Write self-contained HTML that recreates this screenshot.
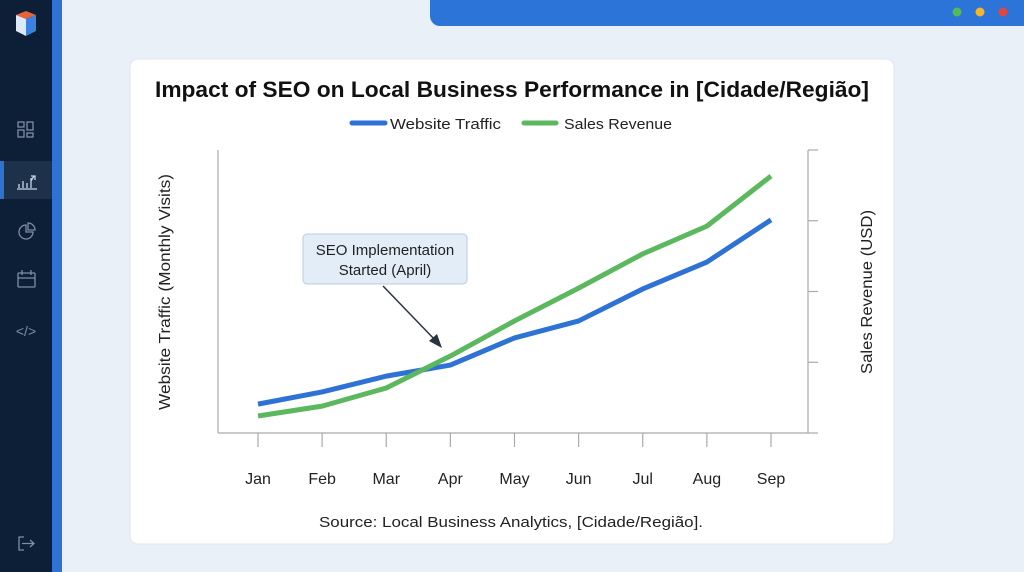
<!DOCTYPE html>
<html><head><meta charset="utf-8"><style>
html,body{margin:0;padding:0;width:1024px;height:572px;overflow:hidden;background:#e9eff8;font-family:"Liberation Sans",sans-serif}
</style></head><body>
<svg width="1024" height="572" viewBox="0 0 1024 572" xmlns="http://www.w3.org/2000/svg" style="position:absolute;left:0;top:0">
<rect x="0" y="0" width="1024" height="572" fill="#eaf0f8"/>
<g>
<rect x="0" y="0" width="52" height="572" fill="#0c1f36"/>
<rect x="52" y="0" width="10" height="572" fill="#2f72d6"/>
<g><polygon points="16,15 26,11 36,15 26,19" fill="#e8633a"/><polygon points="16,15 26,19 26,36 16,31" fill="#dfe8f5"/><polygon points="26,19 36,15 36,31 26,36" fill="#3b82e0"/></g>
<g fill="none" stroke="#7d8ea6" stroke-width="1.3"><rect x="18" y="122" width="6" height="5"/><rect x="27" y="122" width="6" height="8"/><rect x="18" y="130" width="6" height="7"/><rect x="27" y="133" width="6" height="4"/></g>
<rect x="4" y="161" width="48" height="38" fill="#1d314b"/>
<rect x="0" y="161" width="4" height="38" fill="#2f72d6"/>
<g stroke="#c8d4e6" stroke-width="1.3" fill="none"><path d="M17 189 H37 M19 188 V184 M23 188 V181 M27 188 V183 M31 188 V178 M34 176 L31 181"/><path d="M31 176 H35 V180"/></g>
<g fill="none" stroke="#7d8ea6" stroke-width="1.3"><path d="M26 225 A7 7 0 1 0 33 232 H26 Z"/><path d="M28 223 A7 7 0 0 1 35 230 H28 Z"/></g>
<g fill="none" stroke="#7d8ea6" stroke-width="1.3"><rect x="18" y="273" width="17" height="14" rx="1"/><path d="M18 278 H35 M22 270 V275 M31 270 V275"/></g>
<text x="26" y="336" text-anchor="middle" font-size="14" fill="#7d8ea6">&lt;/&gt;</text>
<g fill="none" stroke="#7d8ea6" stroke-width="1.3"><path d="M24 537 H19 V550 H24 M22 543.5 H34 M30 540 L34 543.5 L30 547"/></g>
</g>
<g>
<path d="M430 0 H1024 V26 H440 A10 10 0 0 1 430 16 Z" fill="#2d74d8"/>
<circle cx="957" cy="12" r="4.5" fill="#55b85a"/>
<circle cx="980" cy="12" r="4.5" fill="#f3b62f"/>
<circle cx="1003" cy="12" r="4.5" fill="#e2463d"/>
</g>
<rect x="130" y="59" width="764" height="485" rx="8" fill="#fff" stroke="#e1e6ee"/>
<text x="512" y="97" text-anchor="middle" font-size="22" font-weight="bold" fill="#111" textLength="714" lengthAdjust="spacingAndGlyphs">Impact of SEO on Local Business Performance in [Cidade/Região]</text>
<g>
<line x1="352" y1="123" x2="385" y2="123" stroke="#2f72d6" stroke-width="5" stroke-linecap="round"/>
<text x="390" y="129" font-size="15" fill="#222" textLength="111" lengthAdjust="spacingAndGlyphs">Website Traffic</text>
<line x1="524" y1="123" x2="556" y2="123" stroke="#5cb85f" stroke-width="5" stroke-linecap="round"/>
<text x="564" y="129" font-size="15" fill="#222" textLength="108" lengthAdjust="spacingAndGlyphs">Sales Revenue</text>
</g>
<g id="axes" stroke="#aaa" stroke-width="1.2" fill="none">
<line x1="218" y1="150" x2="218" y2="433"/>
<line x1="218" y1="433" x2="808" y2="433"/>
<line x1="808" y1="150" x2="808" y2="433"/>
</g>
<g id="ticks"></g>
<text transform="translate(170,292) rotate(-90)" text-anchor="middle" font-size="16" fill="#222" textLength="236" lengthAdjust="spacingAndGlyphs">Website Traffic (Monthly Visits)</text>
<text transform="translate(872,292) rotate(-90)" text-anchor="middle" font-size="16" fill="#222" textLength="164" lengthAdjust="spacingAndGlyphs">Sales Revenue (USD)</text>
<g id="series"></g>
<g>
<rect x="303" y="234" width="164" height="50" rx="4" fill="#e3edf8" stroke="#b9cbe0"/>
<text x="385" y="255" text-anchor="middle" font-size="15" fill="#222">SEO Implementation</text>
<text x="385" y="275" text-anchor="middle" font-size="15" fill="#222">Started (April)</text>
<line x1="383" y1="286" x2="437" y2="342" stroke="#2a3340" stroke-width="1.5"/>
<polygon points="442,348 429,341 437,334" fill="#2a3340"/>
</g>
<text x="511" y="527" text-anchor="middle" font-size="15" fill="#222" textLength="384" lengthAdjust="spacingAndGlyphs">Source: Local Business Analytics, [Cidade/Região].</text>
</svg>
<script>
const months=["Jan","Feb","Mar","Apr","May","Jun","Jul","Aug","Sep"];
const traffic=[10.2,14.5,20.1,24.0,33.6,39.6,50.9,60.4,75.3];
const revenue=[6.0,9.5,15.9,27.2,39.6,51.2,63.3,73.1,90.8];
const rightTicks=[0,25,50,75,100];
const NS="http://www.w3.org/2000/svg";
const xs=i=>258+i*(771-258)/(months.length-1);
const ys=v=>433-v*2.83;
const tg=document.getElementById('ticks');
months.forEach((m,i)=>{
 const l=document.createElementNS(NS,'line');
 l.setAttribute('x1',xs(i));l.setAttribute('x2',xs(i));l.setAttribute('y1',433);l.setAttribute('y2',447);
 l.setAttribute('stroke','#aaa');l.setAttribute('stroke-width','1.2');
 
 
 tg.appendChild(l);
 const t=document.createElementNS(NS,'text');
 t.setAttribute('x',xs(i));t.setAttribute('y',484);t.setAttribute('text-anchor','middle');
 t.setAttribute('font-size','16');t.setAttribute('fill','#222');t.textContent=m;
 
 
 tg.appendChild(t);
});
rightTicks.forEach(v=>{
 const l=document.createElementNS(NS,'line');
 l.setAttribute('x1',808);l.setAttribute('x2',818);l.setAttribute('y1',ys(v));l.setAttribute('y2',ys(v));
 l.setAttribute('stroke','#aaa');l.setAttribute('stroke-width','1.2');
 
 
 tg.appendChild(l);
});
const sg=document.getElementById('series');
[[traffic,'#2f72d6','traffic-line'],[revenue,'#5cb85f','revenue-line']].forEach(([d,c,n])=>{
 const p=document.createElementNS(NS,'polyline');
 p.setAttribute('points',d.map((v,i)=>xs(i)+','+ys(v)).join(' '));
 p.setAttribute('fill','none');p.setAttribute('stroke',c);p.setAttribute('stroke-width','5');
 p.setAttribute('stroke-linejoin','round');
 
 
 sg.appendChild(p);
});
</script>
</body></html>
